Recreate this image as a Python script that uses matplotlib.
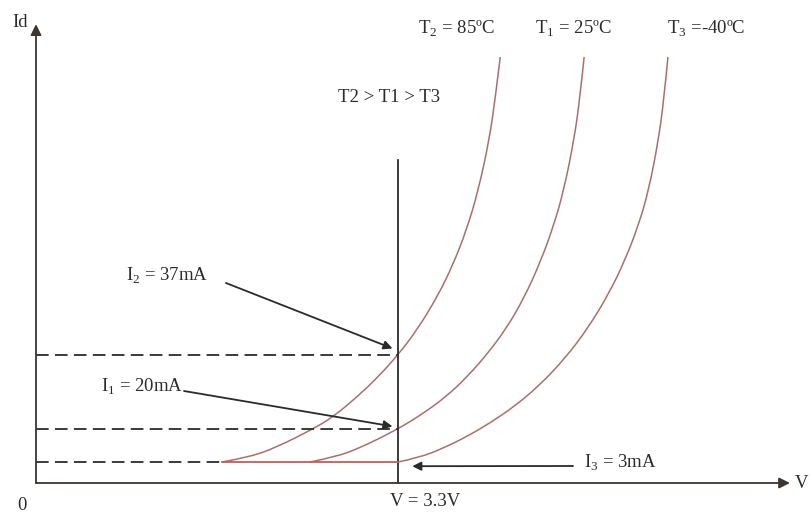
import numpy as np
import matplotlib
matplotlib.use("Agg")
import matplotlib.pyplot as plt
from matplotlib.path import Path
from matplotlib.patches import PathPatch

plt.rcParams["font.family"] = ["Liberation Serif", "DejaVu Serif"]
plt.rcParams["mathtext.fontset"] = "custom"
plt.rcParams["mathtext.rm"] = "Liberation Serif"

# forward voltage (V) and diode current (mA) for each temperature
v_t2 = [1.696, 1.951, 2.197, 2.525, 2.707, 2.926, 3.109, 3.300, 3.479, 3.662,
        3.800, 3.925, 4.033, 4.131, 4.185, 4.232]
i_t2 = [3.0, 5.58, 10.73, 20.0, 22.76, 27.35, 31.72, 37.0, 42.97, 50.55,
        57.68, 65.72, 74.91, 86.39, 95.58, 105.46]

v_t1 = [2.498, 2.726, 2.954, 3.300, 3.522, 3.735, 3.929, 4.114, 4.290, 4.449,
        4.598, 4.718, 4.812, 4.904, 4.956, 4.997]
i_t1 = [3.0, 5.58, 10.21, 20.0, 23.45, 27.35, 31.95, 37.23, 43.20, 50.10,
        58.37, 66.64, 74.91, 86.39, 95.58, 105.46]

v_t3 = [3.300, 3.498, 3.716, 3.937, 4.153, 4.365, 4.584, 4.826, 5.039, 5.225,
        5.370, 5.493, 5.586, 5.674, 5.723, 5.761]
i_t3 = [3.0, 5.32, 10.21, 16.39, 21.61, 25.28, 29.88, 36.31, 43.43, 51.24,
        58.82, 66.87, 74.91, 86.39, 95.58, 105.46]

v_op = 3.3                 # operating voltage
i_levels = [37, 20, 3]     # I2, I1, I3 at v_op
curve_labels = [r"T$_\mathregular{2}$ = 85ºC", r"T$_\mathregular{1}$ = 25ºC",
                r"T$_\mathregular{3}$ =-40ºC"]
level_labels = [r"I$_\mathregular{2}$ = 37mA", r"I$_\mathregular{1}$ = 20mA",
                r"I$_\mathregular{3}$ = 3mA"]

v_end = 6.873      # end of the V axis
i_top = 113.0      # end of the Id axis
i_marker_top = 81.8

# the current axis is not to scale: piecewise-linear sketch scale
scale_i = [-10, 0, 3, 20, 200]
scale_h = [-70, 0, 21, 54, 837.5]


def fwd(y):
    return np.interp(y, scale_i, scale_h)


def inv(h):
    return np.interp(h, scale_h, scale_i)


def smooth_path(xs, ys):
    # quadratic b-spline through the points, midpoints worked out in scale space
    xs = np.asarray(xs, float)
    hs = fwd(np.asarray(ys, float))
    verts = [(xs[0], hs[0])]
    codes = [Path.MOVETO]
    for k in range(1, len(xs) - 2):
        verts += [(xs[k], hs[k]),
                  ((xs[k] + xs[k + 1]) / 2, (hs[k] + hs[k + 1]) / 2)]
        codes += [Path.CURVE3, Path.CURVE3]
    verts += [(xs[-2], hs[-2]), (xs[-1], hs[-1])]
    codes += [Path.CURVE3, Path.CURVE3]
    verts = np.array(verts)
    verts[:, 1] = inv(verts[:, 1])
    return Path(verts, codes)


W, H = 810, 513
fig = plt.figure(figsize=(W / 100, H / 100), dpi=100)
ax = fig.add_axes([0, 0, 1, 1])
ax.set_yscale("function", functions=(fwd, inv))
px_per_v = 362 / 3.3
ax.set_xlim(-36 / px_per_v, (W - 36) / px_per_v)
ax.set_ylim(inv(-30), inv(H - 30))
ax.axis("off")


def fig_xy(x, y):
    return (x / W, 1 - y / H)


ink = "#2b2b2b"
curve_c = "#a9706b"

# axes with arrow heads
arrow_kw = dict(arrowstyle="-|>", color="#3c3530", lw=1.3,
                mutation_scale=16, shrinkA=0, shrinkB=0)
ax.annotate("", xy=(0, i_top), xytext=(0, 0), arrowprops=arrow_kw)
ax.annotate("", xy=(v_end, 0), xytext=(0, 0), arrowprops=arrow_kw)

# operating voltage marker
ax.plot([v_op, v_op], [0, i_marker_top], color=ink, lw=1.3)

# dashed current levels
ax.plot([0, v_op], [i_levels[0]] * 2, color=ink, lw=1.3, dashes=(7, 3.5))
ax.plot([0, v_op], [i_levels[1]] * 2, color=ink, lw=1.3, dashes=(7, 3.5))
ax.plot([0, v_t2[0]], [i_levels[2]] * 2, color=ink, lw=1.3, dashes=(7, 3.5))
ax.plot([v_t2[0], v_op], [i_levels[2]] * 2, color="#c0605a", lw=1.3)

# diode curves
for vs, cs in [(v_t2, i_t2), (v_t1, i_t1), (v_t3, i_t3)]:
    ax.add_patch(PathPatch(smooth_path(vs, cs), facecolor="none",
                           edgecolor=curve_c, lw=1.1))

txt = dict(color=ink, fontsize=13.5)
for lab, x in zip(curve_labels, [456, 573, 706]):
    fig.text(*fig_xy(x, 29), lab, ha="center", va="center", **txt)
fig.text(*fig_xy(389, 98), "T2 > T1 > T3", ha="center", va="center", **txt)
fig.text(*fig_xy(20, 23), "Id", ha="center", va="center", **txt)
fig.text(*fig_xy(22, 505), "0", ha="center", va="center", **txt)
fig.text(*fig_xy(425, 501), "V = 3.3V", ha="center", va="center", **txt)
fig.text(*fig_xy(802, 483), "V", ha="center", va="center", **txt)

# labels pointing at the operating currents
pointer = dict(arrowstyle="-|>", color=ink, lw=1.3, mutation_scale=13,
               shrinkA=0, shrinkB=0)
ax.annotate("", xy=(v_op - 0.05, i_levels[0] + 1.5), xytext=fig_xy(226, 283),
            textcoords=fig.transFigure, arrowprops=pointer)
fig.text(*fig_xy(167, 276), level_labels[0], ha="center", va="center", **txt)
ax.annotate("", xy=(v_op - 0.05, i_levels[1] + 0.6), xytext=fig_xy(184, 391),
            textcoords=fig.transFigure, arrowprops=pointer)
fig.text(*fig_xy(142, 387), level_labels[1], ha="center", va="center", **txt)
ax.annotate("", xy=(v_op + 0.13, 2.4), xytext=fig_xy(573, 466),
            textcoords=fig.transFigure, arrowprops=pointer)
fig.text(*fig_xy(620, 463), level_labels[2], ha="center", va="center", **txt)

fig.savefig("out.png", dpi=100, facecolor="white")
